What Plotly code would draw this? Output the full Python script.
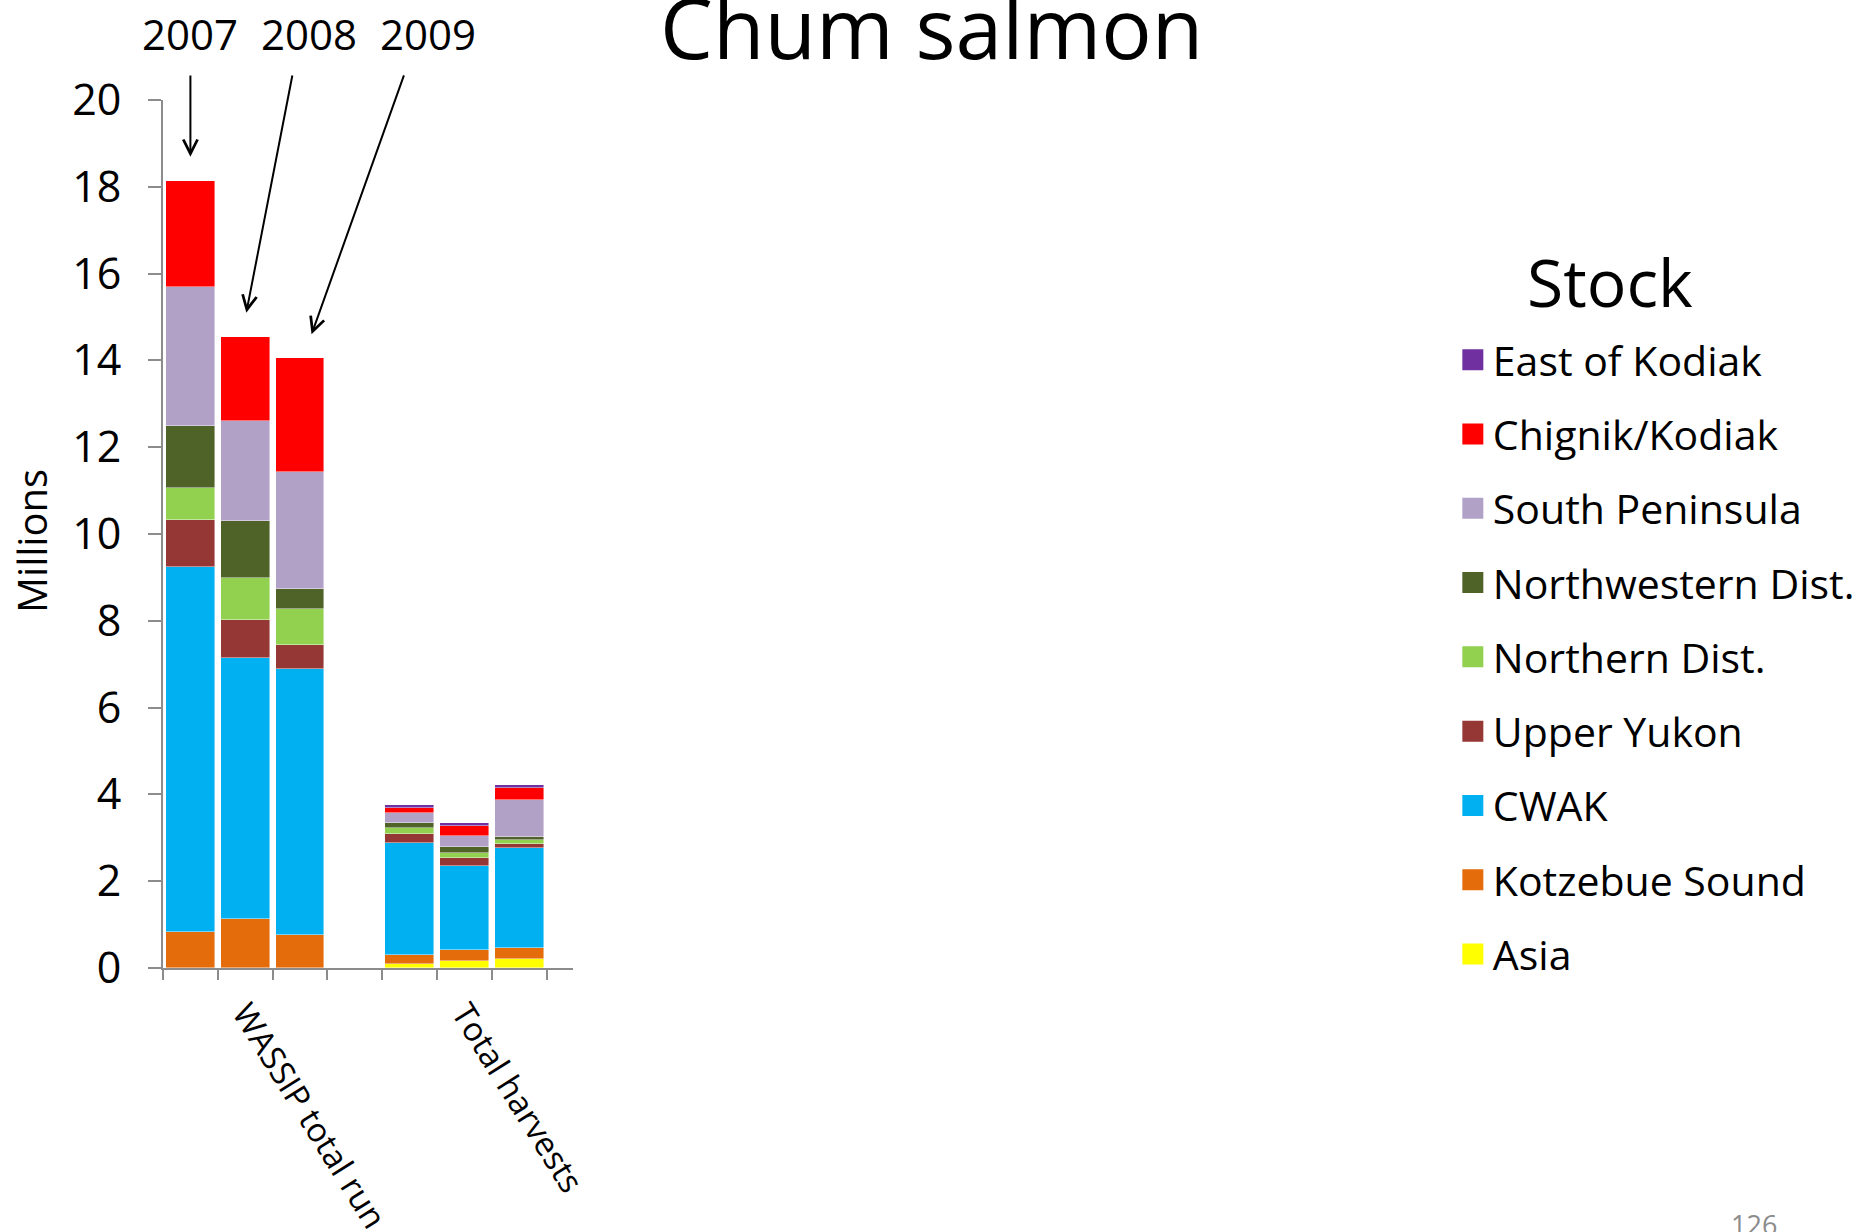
import plotly.graph_objects as go

# Chum salmon by stock (millions of fish)
# column order: WASSIP total run 2007-2009, then total harvests 2007-2009
groups = ["WASSIP total run", "Total harvests"]
years = ["2007", "2008", "2009"]

stocks = ["Asia", "Kotzebue Sound", "CWAK", "Upper Yukon", "Northern Dist.",
          "Northwestern Dist.", "South Peninsula", "Chignik/Kodiak", "East of Kodiak"]

asia = [0.0, 0.0, 0.0, 0.09, 0.16, 0.20]
kotzebue_sound = [0.82, 1.12, 0.77, 0.22, 0.25, 0.25]
cwak = [8.41, 6.03, 6.11, 2.58, 1.93, 2.32]
upper_yukon = [1.10, 0.88, 0.57, 0.19, 0.20, 0.09]
northern_dist = [0.74, 0.96, 0.82, 0.14, 0.12, 0.08]
northwestern_dist = [1.42, 1.31, 0.47, 0.11, 0.12, 0.08]
south_peninsula = [3.21, 2.30, 2.68, 0.25, 0.26, 0.86]
chignik_kodiak = [2.44, 1.95, 2.63, 0.11, 0.23, 0.27]
east_of_kodiak = [0.0, 0.0, 0.0, 0.07, 0.06, 0.06]

y_ticks = list(range(0, 21, 2))

series = [asia, kotzebue_sound, cwak, upper_yukon, northern_dist,
          northwestern_dist, south_peninsula, chignik_kodiak, east_of_kodiak]
colors = ["#FFFF00", "#E46C0A", "#00B0F0", "#953735", "#92D050",
          "#4F6228", "#B2A1C7", "#FF0000", "#7030A0"]

FONT = "Open Sans, Lato, sans-serif"
AXIS_GREY = "#8c8c8c"

# slot layout: three bars per group, one empty slot between groups
group_start = [0, 4]
x_pos = [g + i + 0.5 for g in group_start for i in range(len(years))]
group_centre = [g + 1.5 for g in group_start]
bar_width = 0.89
x_max = 7.48

fig = go.Figure()

for name, vals, col in zip(stocks, series, colors):
    fig.add_trace(go.Bar(
        x=x_pos, y=vals, name=name, width=bar_width,
        marker=dict(color=col, line=dict(color="rgba(255,255,255,0.55)", width=0.8)),
        showlegend=False,
    ))

# legend entries (top to bottom: East of Kodiak ... Asia)
for name, col in reversed(list(zip(stocks, colors))):
    fig.add_trace(go.Scatter(
        x=[None], y=[None], mode="markers", name=name, legendgroup=name,
        marker=dict(symbol="square", size=16, color=col, line=dict(color=col, width=5)),
    ))

totals = [sum(s[k] for s in series) for k in range(len(x_pos))]

annotations = []
# year labels with arrows pointing at the total-run bars
label_x = [0.5, 2.67, 4.84]
tail_x = [0.5, 2.365, 4.405]
head_dx = [0.0, 0.02, 0.21]
for k, yr in enumerate(years):
    annotations.append(dict(
        x=label_x[k] / x_max, y=1.077, xref="paper", yref="paper", text=yr, showarrow=False,
        font=dict(family=FONT, size=42, color="black"), xanchor="center", yanchor="middle",
    ))
    annotations.append(dict(
        x=x_pos[k] + head_dx[k], y=totals[k] + 0.55, xref="x", yref="y",
        ax=tail_x[k], ay=20.6, axref="x", ayref="y", text="",
        showarrow=True, arrowhead=5, arrowsize=1.4, arrowwidth=2, arrowcolor="black",
        standoff=0, startstandoff=0,
    ))

# title
annotations.append(dict(
    x=1.874, y=1.085, xref="paper", yref="paper", text="Chum salmon", showarrow=False,
    font=dict(family=FONT, size=84, color="black"), xanchor="center", yanchor="middle",
))
# y axis title
annotations.append(dict(
    x=-0.3195, y=0.492, xref="paper", yref="paper", text="Millions", showarrow=False,
    textangle=-90, font=dict(family=FONT, size=40, color="black"),
    xanchor="center", yanchor="middle",
))
# legend heading
annotations.append(dict(
    x=3.53, y=0.792, xref="paper", yref="paper", text="Stock", showarrow=False,
    font=dict(family=FONT, size=66, color="black"), xanchor="center", yanchor="middle",
))
# page number
annotations.append(dict(
    x=3.88, y=-0.272, xref="paper", yref="paper", text="126", showarrow=False,
    font=dict(family=FONT, size=27, color="#8c8c8c"), xanchor="center", yanchor="top",
))

fig.update_layout(
    width=1865, height=1232,
    margin=dict(l=163, r=1292, t=100, b=264, pad=0, autoexpand=False),
    paper_bgcolor="white", plot_bgcolor="white",
    barmode="stack", bargap=0,
    font=dict(family=FONT, color="black"),
    showlegend=True,
    legend=dict(
        xref="container", yref="container", x=0.779, y=0.735,
        xanchor="left", yanchor="top", maxheight=1100,
        font=dict(family=FONT, size=41, color="black"),
        traceorder="grouped", tracegroupgap=18,
        bgcolor="rgba(0,0,0,0)", borderwidth=0,
    ),
    annotations=annotations,
)

fig.update_xaxes(
    range=[0, x_max], showgrid=False, zeroline=False, automargin=False,
    showline=True, linecolor=AXIS_GREY, linewidth=2,
    tickmode="array", tickvals=group_centre, ticktext=groups,
    ticks="", tickangle=58, ticklabelstandoff=11,
    tickfont=dict(family=FONT, size=33, color="black"),
    minor=dict(tickmode="linear", tick0=0, dtick=1, ticks="outside",
               ticklen=10, tickwidth=2, tickcolor=AXIS_GREY, showgrid=False),
)
fig.update_yaxes(
    range=[0, 20], showgrid=False, zeroline=False, automargin=False,
    showline=True, linecolor=AXIS_GREY, linewidth=2,
    tickmode="array", tickvals=y_ticks,
    ticks="outside", ticklen=13, tickwidth=2, tickcolor=AXIS_GREY,
    ticklabelstandoff=18,
    tickfont=dict(family=FONT, size=43, color="black"),
)

fig.write_html("out.html")
